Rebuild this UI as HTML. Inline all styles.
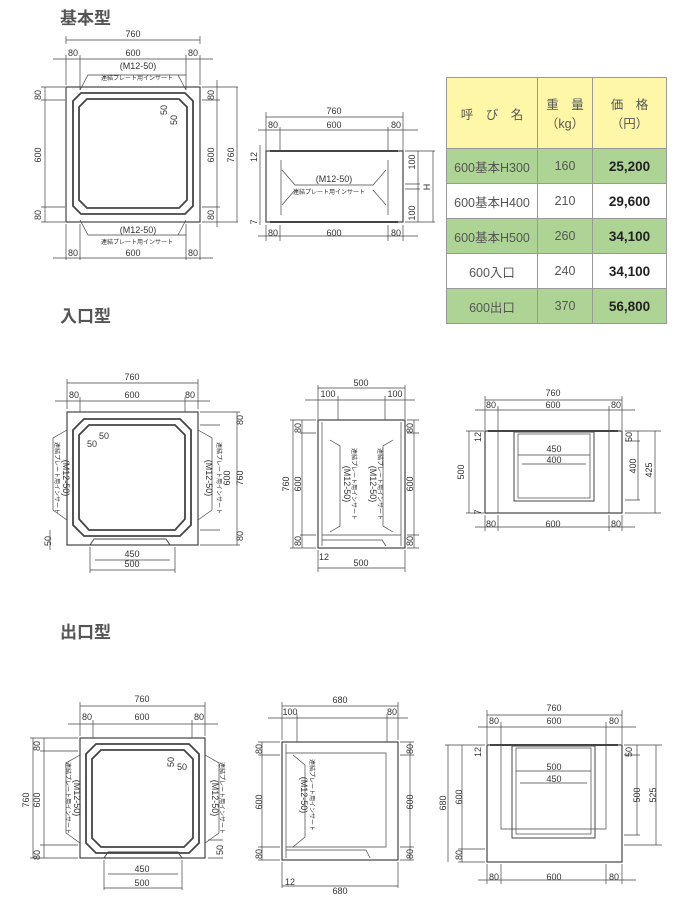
<!DOCTYPE html>
<html><head><meta charset="utf-8"><style>
body{margin:0;background:#fff;width:691px;height:921px;overflow:hidden;position:relative;font-family:"Liberation Sans","Noto Sans CJK JP",sans-serif}
svg{position:absolute;left:0;top:0}
.t{font-size:9px;fill:#333;text-anchor:middle}
.s{font-size:6px;fill:#333;text-anchor:middle;font-family:"Liberation Sans","Noto Sans CJK JP",sans-serif}
.h{font-size:17px;font-weight:bold;fill:#555;font-family:"Liberation Sans","Noto Sans CJK JP",sans-serif}
table{position:absolute;left:446px;top:77px;border-collapse:collapse;font-size:12.5px;color:#555}
td{border:1px solid #999;text-align:center;height:34px;padding:0}
.g td{background:#add494}
.w td{background:#fff}
td.p{font-weight:bold;color:#222;font-size:13.5px}
</style></head><body>
<svg width="691" height="921" viewBox="0 0 691 921" fill="none" stroke="#444" stroke-width="0.7">
<text class="h" x="60" y="24" stroke="none">基本型</text>
<text class="h" x="60" y="322" stroke="none">入口型</text>
<text class="h" x="60" y="638" stroke="none">出口型</text>

<!-- ===== TOP PLAN ===== -->
<rect x="66" y="87" width="134" height="135" stroke-width="1.2"/>
<polygon points="81,93 185,93 193,101 193,206 185,214 81,214 73,206 73,101" stroke-width="1.8"/>
<polygon points="87,99 179,99 187,107 187,200 179,208 87,208 79,200 79,107" stroke-width="1.8"/>
<path d="M66,36v8M200,36v8M66,40h134M53,59h160M66,55v30M80,55v35M186,55v35M200,55v30"/>
<g class="t" stroke="none"><text x="133" y="37">760</text><text x="73" y="56">80</text><text x="133" y="56">600</text><text x="193" y="56">80</text>
<text x="138" y="69">(M12-50)</text><text x="138" y="233">(M12-50)</text>
<text x="73" y="256">80</text><text x="133" y="256">600</text><text x="193" y="256">80</text></g>
<g class="s" stroke="none"><text x="137" y="80">連結プレート用インサート</text><text x="137" y="244">連結プレート用インサート</text></g>
<path d="M80,90l8,-15h98M186,90l-8,-15M80,220l8,15h98M186,220l-8,15M66,224v36M80,224v36M186,224v36M200,224v36M53,258h160"/>
<path d="M41,87h24M41,100h24M41,207h24M41,222h24M45,87v135"/>
<g class="t" stroke="none"><text transform="translate(41,95) rotate(-90)">80</text><text transform="translate(41,155) rotate(-90)">600</text><text transform="translate(41,215) rotate(-90)">80</text>
<text transform="translate(214,95) rotate(-90)">80</text><text transform="translate(214,155) rotate(-90)">600</text><text transform="translate(214,215) rotate(-90)">80</text>
<text transform="translate(234,155) rotate(-90)">760</text>
<text transform="translate(167,110) rotate(-90)">50</text><text transform="translate(177,120) rotate(-90)">50</text></g>
<path d="M202,87h36M202,100h18M202,207h18M202,222h36M217,80v147M237,87v135"/>

<!-- ===== TOP SIDE ===== -->
<rect x="266" y="151" width="137" height="71" stroke-width="1.2"/>
<path d="M270,151h128M270,222h128" stroke-width="2"/>
<path d="M281,160v55M388,160v55M282,170l13,15h78l13,-15M282,205l13,-15M386,205l-13,-15"/>
<path d="M266,112v40M403,112v40M266,117h137M258,130h160M280,127v24M388,127v24M266,225v16M280,225v16M388,225v16M403,225v16M258,236h160"/>
<g class="t" stroke="none"><text x="334" y="114">760</text><text x="273" y="128">80</text><text x="334" y="128">600</text><text x="396" y="128">80</text>
<text x="334" y="182">(M12-50)</text><text x="273" y="236">80</text><text x="334" y="236">600</text><text x="396" y="236">80</text>
<text transform="translate(257,157) rotate(-90)">12</text><text transform="translate(257,222) rotate(-90)">7</text>
<text transform="translate(415,162) rotate(-90)">100</text><text transform="translate(415,213) rotate(-90)">100</text><text transform="translate(430,187) rotate(-90)">H</text></g>
<text class="s" x="329" y="194" stroke="none">連結プレート用インサート</text>
<path d="M405,151h30M405,184h15M405,189h15M405,222h30M418,151v71M433,151v71M260,145v80"/>

<!-- ===== MID PLAN ===== -->
<rect x="67" y="412" width="131" height="133" stroke-width="1.2"/>
<polygon points="84,419 180,419 191,430 191,525 180,536 84,536 73,525 73,430" stroke-width="1.8"/>
<polygon points="89,425 175,425 185,435 185,519 175,530 89,530 79,519 79,435" stroke-width="1.8"/>
<path d="M90,545l4,-6h72l4,6" stroke-width="1"/>
<path d="M67,379v30M198,379v30M67,383h131M55,401h155M80,397v15M185,397v15"/>
<path d="M67,430l-14,8v72l14,10M198,430l14,8v72l-14,10M90,547v26M175,547v26M95,560h75M90,570h85"/>
<path d="M200,412h40M200,425h20M200,530h20M200,545h40M237,412v133M50,530v20"/>
<g class="t" stroke="none"><text x="132" y="380">760</text><text x="74" y="398">80</text><text x="132" y="398">600</text><text x="190" y="398">80</text>
<text x="132" y="557">450</text><text x="132" y="567">500</text>
<text transform="translate(243,420) rotate(-90)">80</text><text transform="translate(230,478) rotate(-90)">600</text><text transform="translate(243,478) rotate(-90)">760</text><text transform="translate(243,536) rotate(-90)">80</text>
<text transform="translate(51,541) rotate(-90)">50</text><text x="92" y="447">50</text><text x="104" y="439">50</text>
<text transform="translate(63,478) rotate(90)">(M12-50)</text><text transform="translate(206,478) rotate(90)">(M12-50)</text></g>
<g class="s" stroke="none"><text transform="translate(55,478) rotate(90)">連結プレート用インサート</text><text transform="translate(217,478) rotate(90)">連結プレート用インサート</text></g>

<!-- ===== MID FRONT ===== -->
<rect x="318" y="420" width="87" height="128" stroke-width="1.2"/>
<path d="M322,422v124M401,422v124M322,535h79" />
<path d="M330,440l10,6v80l-10,6M393,440l-10,6v80l10,6M322,540h60l4,6"/>
<path d="M318,385v34M405,385v34M318,388h87M305,400h110M338,396v24M385,396v24M318,550v22M405,550v22M318,568h87"/>
<path d="M290,420h26M300,433h16M300,535h16M290,548h26M293,420v128M302,420v128M407,420h12M407,433h12M407,535h12M407,548h12M414,420v128"/>
<g class="t" stroke="none"><text x="361" y="386">500</text><text x="328" y="397">100</text><text x="395" y="397">100</text>
<text x="361" y="566">500</text><text x="324" y="560">12</text>
<text transform="translate(301,428) rotate(-90)">80</text><text transform="translate(301,484) rotate(-90)">600</text><text transform="translate(289,484) rotate(-90)">760</text><text transform="translate(301,541) rotate(-90)">80</text>
<text transform="translate(413,428) rotate(-90)">80</text><text transform="translate(413,484) rotate(-90)">600</text><text transform="translate(413,541) rotate(-90)">80</text>
<text transform="translate(344,484) rotate(90)">(M12-50)</text><text transform="translate(370,484) rotate(90)">(M12-50)</text></g>
<g class="s" stroke="none"><text transform="translate(352,484) rotate(90)">連結プレート用インサート</text><text transform="translate(378,484) rotate(90)">連結プレート用インサート</text></g>

<!-- ===== MID SIDE ===== -->
<rect x="485" y="431" width="137" height="82" stroke-width="1.2"/>
<path d="M488,431h130" stroke-width="2"/>
<rect x="514" y="432" width="80" height="69" stroke-width="1"/>
<rect x="518" y="434" width="72" height="64"/>
<path d="M498,431v82M609,431v82M518,455h72M522,464h64"/>
<path d="M485,396v34M622,396v34M485,400h137M475,410h160M498,406v24M609,406v24M485,515v16M498,515v16M609,515v16M622,515v16M475,527h160"/>
<path d="M466,431h18M466,513h18M469,431v82M625,431h36M625,441h15M625,500h15M625,513h36M638,431v69M655,431v82"/>
<g class="t" stroke="none"><text x="553" y="396">760</text><text x="491" y="408">80</text><text x="553" y="408">600</text><text x="616" y="408">80</text>
<text x="554" y="452">450</text><text x="554" y="463">400</text>
<text x="491" y="527">80</text><text x="553" y="527">600</text><text x="616" y="527">80</text>
<text transform="translate(464,472) rotate(-90)">500</text><text transform="translate(481,437) rotate(-90)">12</text><text transform="translate(481,512) rotate(-90)">7</text>
<text transform="translate(632,437) rotate(-90)">50</text><text transform="translate(636,466) rotate(-90)">400</text><text transform="translate(652,470) rotate(-90)">425</text></g>

<!-- ===== BOTTOM PLAN ===== -->
<rect x="80" y="738" width="125" height="120" stroke-width="1.2"/>
<polygon points="96,744 189,744 199,754 199,843 189,853 96,853 86,843 86,754" stroke-width="1.8"/>
<polygon points="101,750 184,750 193,759 193,838 184,847 101,847 92,838 92,759" stroke-width="1.8"/>
<path d="M104,858l4,-6h70l4,6" stroke-width="1"/>
<path d="M80,702v34M205,702v34M80,706h125M68,724h150M93,720v18M192,720v18"/>
<path d="M80,755l-14,8v70l14,10M205,755l14,8v70l-14,10M104,860v30M182,860v30M108,874h70M104,888h78"/>
<path d="M30,738h48M40,751h38M40,845h38M30,858h48M33,738v120M44,738v120M208,840h15M208,858h15"/>
<g class="t" stroke="none"><text x="142" y="702">760</text><text x="87" y="720">80</text><text x="142" y="720">600</text><text x="199" y="720">80</text>
<text x="142" y="872">450</text><text x="142" y="886">500</text>
<text transform="translate(40,746) rotate(-90)">80</text><text transform="translate(40,800) rotate(-90)">600</text><text transform="translate(29,800) rotate(-90)">760</text><text transform="translate(40,855) rotate(-90)">80</text>
<text transform="translate(223,850) rotate(-90)">50</text><text transform="translate(174,762) rotate(-90)">50</text><text x="182" y="770">50</text>
<text transform="translate(74,798) rotate(90)">(M12-50)</text><text transform="translate(212,798) rotate(90)">(M12-50)</text></g>
<g class="s" stroke="none"><text transform="translate(66,798) rotate(90)">連結プレート用インサート</text><text transform="translate(220,798) rotate(90)">連結プレート用インサート</text></g>

<!-- ===== BOTTOM FRONT ===== -->
<rect x="282" y="742" width="116" height="118" stroke-width="1.2"/>
<path d="M286,744v114M286,753h100v94h-100M286,850h80l4,8"/>
<path d="M293,755l12,10v72l-12,10"/>
<path d="M282,702v38M398,702v38M282,706h116M268,718h140M297,714v28M387,714v28M282,862v26M398,862v26M282,886h116"/>
<path d="M258,742h22M258,755h22M258,847h22M258,860h22M262,742v118M400,742h14M400,755h14M400,847h14M400,860h14M410,742v118"/>
<g class="t" stroke="none"><text x="340" y="703">680</text><text x="290" y="715">100</text><text x="392" y="715">80</text>
<text x="290" y="885">12</text><text x="340" y="894">680</text>
<text transform="translate(262,749) rotate(-90)">80</text><text transform="translate(262,802) rotate(-90)">600</text><text transform="translate(262,854) rotate(-90)">80</text>
<text transform="translate(413,749) rotate(-90)">80</text><text transform="translate(413,802) rotate(-90)">600</text><text transform="translate(413,854) rotate(-90)">80</text>
<text transform="translate(301,795) rotate(90)">(M12-50)</text></g>
<text class="s" transform="translate(310,795) rotate(90)" stroke="none">連結プレート用インサート</text>

<!-- ===== BOTTOM SIDE ===== -->
<rect x="487" y="745" width="135" height="117" stroke-width="1.2"/>
<path d="M490,745h128" stroke-width="2"/>
<rect x="512" y="746" width="83" height="92" stroke-width="1"/>
<rect x="516" y="748" width="75" height="86"/>
<path d="M501,745v84h105v-84M516,771h75M520,783h67"/>
<path d="M487,710v34M622,710v34M487,715h135M478,727h158M501,722v22M606,722v22M487,864v20M501,864v20M606,864v20M622,864v20M478,880h158"/>
<path d="M445,745h40M458,849h27M458,862h27M448,745v117M462,745v117M624,745h38M624,755h16M624,835h16M624,845h38M637,745v90M656,745v100"/>
<g class="t" stroke="none"><text x="554" y="711">760</text><text x="494" y="724">80</text><text x="554" y="724">600</text><text x="614" y="724">80</text>
<text x="554" y="770">500</text><text x="554" y="782">450</text>
<text x="494" y="880">80</text><text x="554" y="880">600</text><text x="614" y="880">80</text>
<text transform="translate(446,803) rotate(-90)">680</text><text transform="translate(462,797) rotate(-90)">600</text><text transform="translate(462,855) rotate(-90)">80</text><text transform="translate(481,752) rotate(-90)">12</text>
<text transform="translate(632,752) rotate(-90)">50</text><text transform="translate(640,795) rotate(-90)">500</text><text transform="translate(656,795) rotate(-90)">525</text></g>
</svg>

<table>
<tr style="background:#fff7a8"><td style="width:90px;height:70px">呼　び　名</td><td style="width:54px">重　量<br>（kg）</td><td style="width:73px">価　格<br>（円）</td></tr>
<tr class="g"><td>600基本H300</td><td>160</td><td class="p">25,200</td></tr>
<tr class="w"><td>600基本H400</td><td>210</td><td class="p">29,600</td></tr>
<tr class="g"><td>600基本H500</td><td>260</td><td class="p">34,100</td></tr>
<tr class="w"><td>600入口</td><td>240</td><td class="p">34,100</td></tr>
<tr class="g"><td>600出口</td><td>370</td><td class="p">56,800</td></tr>
</table>
</body></html>
